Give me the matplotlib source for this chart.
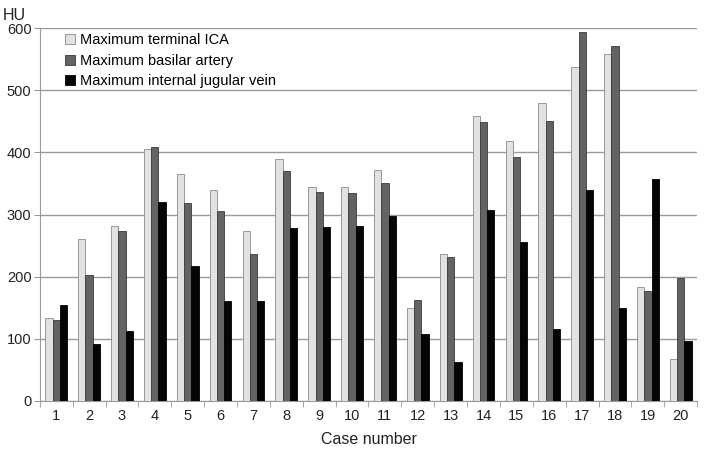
import numpy as np
import matplotlib
matplotlib.use("Agg")
import matplotlib.pyplot as plt

cases = [str(i) for i in range(1, 21)]
ica = [133, 260, 281, 405, 365, 339, 274, 389, 344, 345, 371, 150, 236, 459, 418, 480, 537, 558, 184, 68]
basilar = [131, 203, 273, 408, 319, 305, 237, 370, 336, 335, 350, 163, 231, 449, 392, 450, 593, 571, 177, 198]
ijv = [155, 92, 112, 320, 217, 160, 161, 278, 280, 282, 297, 108, 63, 307, 256, 115, 340, 150, 357, 96]
series_names = ["Maximum terminal ICA", "Maximum basilar artery", "Maximum internal jugular vein"]
y_ticks = [0, 100, 200, 300, 400, 500, 600]


def main():
    plt.rcParams["font.family"] = ["Liberation Sans", "DejaVu Sans"]
    fig = plt.figure(figsize=(7.1, 4.54), dpi=100)
    ax = fig.add_axes([0.056, 0.117, 0.926, 0.821])

    x = np.arange(1, len(cases) + 1)
    w = 0.22
    colors = ["#e2e2e2", "#636363", "#050505"]
    edges = ["#8a8a8a", "#3a3a3a", "#000000"]
    for k, vals in enumerate([ica, basilar, ijv]):
        ax.bar(x + (k - 1) * w, vals, width=w, color=colors[k], edgecolor=edges[k],
               linewidth=0.6, label=series_names[k], zorder=3)

    ax.set_xlim(0.5, 20.5)
    ax.set_ylim(0, 600)
    ax.set_yticks(y_ticks)
    ax.set_xticks(x)
    ax.set_xticklabels(cases)
    ax.set_xticks(np.arange(0.5, 21, 1), minor=True)
    ax.tick_params(axis="x", which="major", length=0, labelsize=10.5, colors="#222222", pad=6)
    ax.tick_params(axis="x", which="minor", length=4, color="#999999")
    ax.tick_params(axis="y", length=4, color="#999999", labelsize=10.5, labelcolor="#222222", pad=2)
    ax.grid(axis="y", color="#9a9a9a", linewidth=1.0, zorder=0)
    for s in ["top", "right"]:
        ax.spines[s].set_visible(False)
    for s in ["left", "bottom"]:
        ax.spines[s].set_color("#9a9a9a")

    ax.set_xlabel("Case number", fontsize=11.5, color="#222222", labelpad=6)
    fig.text(0.004, 0.955, "HU", fontsize=11.5, color="#222222")

    ax.legend(loc="upper left", bbox_to_anchor=(0.025, 1.01), frameon=False,
              fontsize=10.5, handlelength=0.7, handleheight=0.7, handletextpad=0.3,
              labelspacing=0.45, borderaxespad=0.2)

    plt.savefig("out.png", dpi=100)


if __name__ == '__main__':
    main()
